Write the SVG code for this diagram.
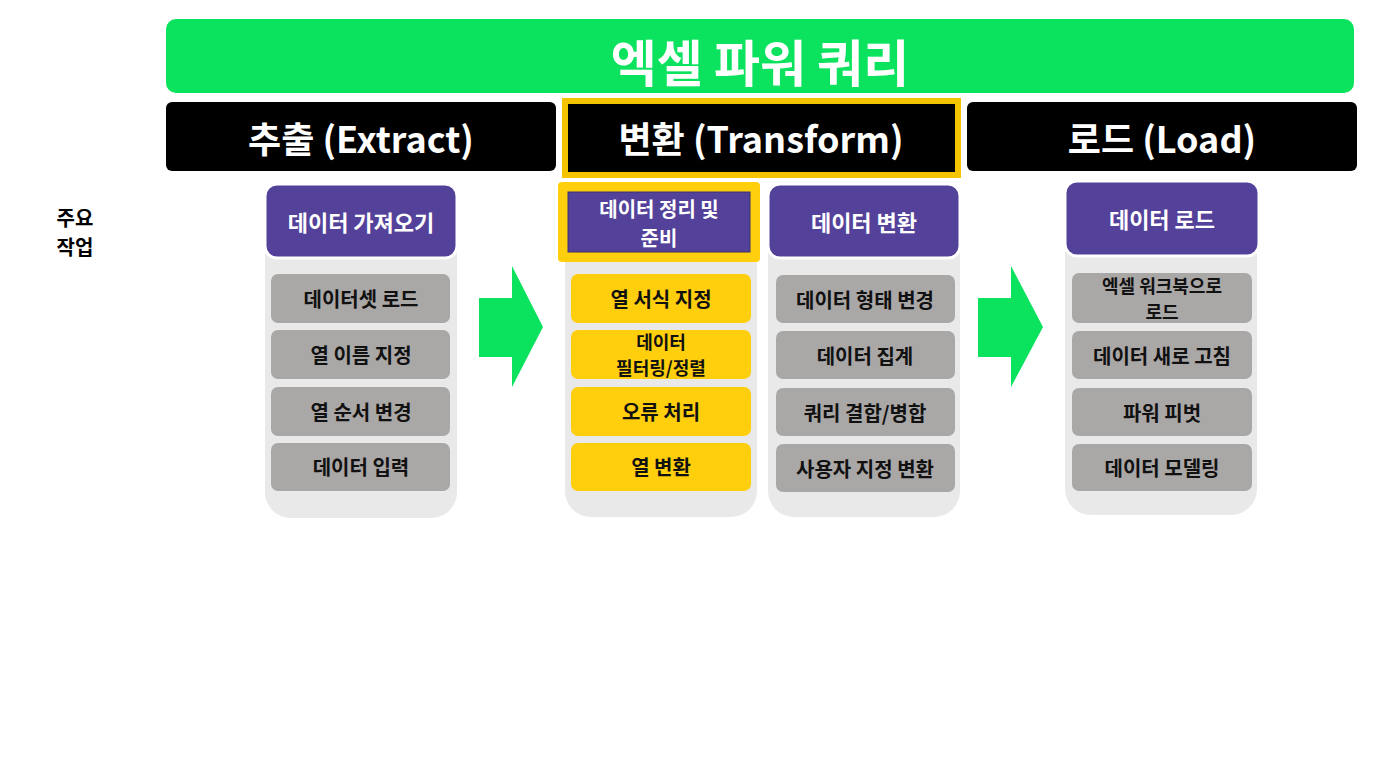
<svg xmlns="http://www.w3.org/2000/svg" width="1376" height="768" viewBox="0 0 1376 768">
<style>
text{font-family:"Noto Sans CJK KR","Noto Sans",sans-serif;font-weight:bold;text-anchor:middle;dominant-baseline:central}
.hd{fill:#000}.ht{fill:#fff;font-size:36px}
.pn{fill:#e9e9e9}
.pu{fill:#54429a;stroke:#fff;stroke-width:3}
.pt{fill:#fff;font-size:22px}
.pt2{fill:#fff;font-size:20px}
.g{fill:#aaa7a7}.y{fill:#ffcf0d}
.it{fill:#111;font-size:20px}
.it2{fill:#111;font-size:18px}
.ar{fill:#0be35f}
</style>
<rect width="1376" height="768" fill="#fff"/>
<g id="title"><rect x="166" y="19" width="1188" height="74" rx="10" fill="#0be35f"/><text x="760" y="60" style="fill:#fff;font-size:50px">엑셀 파워 쿼리</text></g>
<g id="h-extract"><rect class="hd" x="166" y="102" width="390" height="69" rx="6"/><text class="ht" x="361" y="137">추출 (Extract)</text></g>
<g id="h-transform"><rect x="565" y="101" width="393" height="74" fill="#000" stroke="#f5c400" stroke-width="6"/><text class="ht" x="761" y="137">변환 (Transform)</text></g>
<g id="h-load"><rect class="hd" x="967" y="102" width="390" height="69" rx="6"/><text class="ht" x="1162" y="137">로드 (Load)</text></g>
<g id="label"><text x="75" y="217" style="font-size:20px;fill:#000">주요</text><text x="75" y="246" style="font-size:20px;fill:#000">작업</text></g>
<g id="col1">
<rect class="pn" x="265" y="186" width="192" height="332" rx="26"/>
<rect class="pu" x="265" y="184" width="192" height="74" rx="12"/><text class="pt" x="361" y="221">데이터 가져오기</text>
<rect class="g" x="271" y="274" width="179" height="49" rx="7"/><text class="it" x="361" y="298">데이터셋 로드</text>
<rect class="g" x="271" y="330" width="179" height="49" rx="7"/><text class="it" x="361" y="354">열 이름 지정</text>
<rect class="g" x="271" y="387" width="179" height="49" rx="7"/><text class="it" x="361" y="411">열 순서 변경</text>
<rect class="g" x="271" y="443" width="179" height="48" rx="7"/><text class="it" x="361" y="466">데이터 입력</text>
</g>
<g id="col2">
<rect class="pn" x="565" y="186" width="192" height="331" rx="26"/>
<rect x="558" y="182" width="202" height="80" rx="4" fill="#ffcf0d"/>
<rect x="568" y="192" width="182" height="60" fill="#54429a" stroke="#3a2e6e" stroke-width="1"/>
<text class="pt2" x="659" y="208">데이터 정리 및</text><text class="pt2" x="659" y="237">준비</text>
<rect class="y" x="571" y="274" width="180" height="49" rx="7"/><text class="it" x="661" y="298">열 서식 지정</text>
<rect class="y" x="571" y="330" width="180" height="49" rx="7"/><text class="it2" x="661" y="341">데이터</text><text class="it2" x="661" y="367">필터링/정렬</text>
<rect class="y" x="571" y="387" width="180" height="49" rx="7"/><text class="it" x="661" y="411">오류 처리</text>
<rect class="y" x="571" y="443" width="180" height="48" rx="7"/><text class="it" x="661" y="466">열 변환</text>
</g>
<g id="col3">
<rect class="pn" x="768" y="186" width="192" height="331" rx="26"/>
<rect class="pu" x="768" y="184" width="192" height="74" rx="12"/><text class="pt" x="864" y="221">데이터 변환</text>
<rect class="g" x="776" y="275" width="179" height="48" rx="7"/><text class="it" x="865" y="299">데이터 형태 변경</text>
<rect class="g" x="776" y="331" width="179" height="48" rx="7"/><text class="it" x="865" y="355">데이터 집계</text>
<rect class="g" x="776" y="388" width="179" height="48" rx="7"/><text class="it" x="865" y="412">쿼리 결합/병합</text>
<rect class="g" x="776" y="444" width="179" height="48" rx="7"/><text class="it" x="865" y="468">사용자 지정 변환</text>
</g>
<g id="col4">
<rect class="pn" x="1065" y="182" width="192" height="333" rx="26"/>
<rect class="pu" x="1065" y="181" width="194" height="75" rx="12"/><text class="pt" x="1162" y="218">데이터 로드</text>
<rect class="g" x="1072" y="273" width="180" height="50" rx="7"/><text class="it2" x="1162" y="285">엑셀 워크북으로</text><text class="it2" x="1162" y="311">로드</text>
<rect class="g" x="1072" y="331" width="180" height="48" rx="7"/><text class="it" x="1162" y="355">데이터 새로 고침</text>
<rect class="g" x="1072" y="388" width="180" height="48" rx="7"/><text class="it" x="1162" y="412">파워 피벗</text>
<rect class="g" x="1072" y="444" width="180" height="47" rx="7"/><text class="it" x="1162" y="467">데이터 모델링</text>
</g>
<g id="connectors">
<polygon class="ar" points="479,298 512,298 512,266 543,327 512,387 512,357 479,357"/>
<polygon class="ar" points="978,298 1011,298 1011,266 1043,327 1011,387 1011,357 978,357"/>
</g>
</svg>
